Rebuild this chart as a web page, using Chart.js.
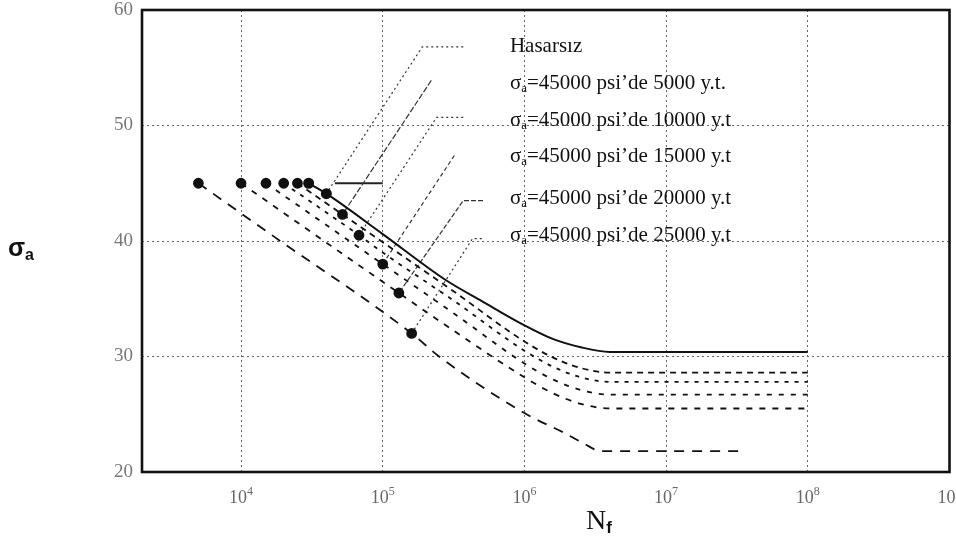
<!DOCTYPE html>
<html>
<head>
<meta charset="utf-8">
<script src="https://cdn.jsdelivr.net/npm/chart.js@4.4.1/dist/chart.umd.min.js"></script>
<style>
  html, body { margin: 0; padding: 0; background: #fff; }
  #wrap { width: 956px; height: 539px; position: relative; }
</style>
</head>
<body>
<div id="wrap"><canvas id="chart-area" width="956" height="539"></canvas></div>
<script>
// ömür eğrileri: N (çevrim) ve sigma_a (ksi)
var seriesNames = [
  'Hasarsız',
  'σa=45000 psi’de 5000 y.t.',
  'σa=45000 psi’de 10000 y.t',
  'σa=45000 psi’de 15000 y.t',
  'σa=45000 psi’de 20000 y.t',
  'σa=45000 psi’de 25000 y.t'
];

var nHasarsiz = [30000, 40000, 100000, 280000, 500000, 1000000, 1600000, 2500000, 4000000, 10000000, 100000000];
var sHasarsiz = [45, 44.1, 40.6, 36.6, 34.8, 32.7, 31.5, 30.8, 30.4, 30.4, 30.4];

var n5000 = [25000, 52000, 100000, 320000, 1000000, 1600000, 2500000, 4000000, 10000000, 100000000];
var s5000 = [45, 42.3, 39.9, 35.6, 31.3, 29.9, 29.0, 28.6, 28.6, 28.6];

var n10000 = [20000, 68000, 100000, 320000, 1000000, 1600000, 2500000, 4000000, 10000000, 100000000];
var s10000 = [45, 40.5, 39.0, 34.8, 30.5, 29.1, 28.2, 27.8, 27.8, 27.8];

var n15000 = [15000, 100000, 320000, 1000000, 1600000, 2500000, 4000000, 10000000, 100000000];
var s15000 = [45, 38.0, 33.7, 29.4, 28.0, 27.1, 26.7, 26.7, 26.7];

var n20000 = [10000, 130000, 320000, 1000000, 1600000, 2500000, 4000000, 10000000, 100000000];
var s20000 = [45, 35.5, 32.2, 28.2, 26.8, 25.9, 25.5, 25.5, 25.5];

var n25000 = [5000, 17000, 160000, 250000, 1000000, 1900000, 2600000, 3500000, 10000000, 35000000];
var s25000 = [45, 40.4, 32.0, 30.0, 25.1, 23.4, 22.5, 21.8, 21.8, 21.8];

// 45 ksi seviyesindeki kısa referans çizgisi
var refN = [46000, 100000];
var refS = [45, 45];

// etiketlerden eğrilere giden kılavuz çizgiler
var leaderTailN = [370000, null, 370000, null, 510000, 500000];
var leaderKneeN = [190000, 220000, 240000, 320000, 370000, 430000];
var leaderS = [56.8, 53.9, 50.7, 47.4, 43.5, 40.2];
var leaderHit = [1, 1, 1, 1, 1, 2];

// eksen değerleri
var xTickValues = [1e4, 1e5, 1e6, 1e7, 1e8, 1e9];
var yTickValues = [20, 30, 40, 50, 60];

// etiket konumu (veri uzayında)
var labelN = 790000;
var labelS = [56.4, 53.2, 50.0, 46.8, 43.2, 40.0];

var allN = [nHasarsiz, n5000, n10000, n15000, n20000, n25000];
var allS = [sHasarsiz, s5000, s10000, s15000, s20000, s25000];
var dashes = [[], [6, 5], [4, 6], [5, 7], [6, 7], [10, 8]];
var leaderDash = [[2, 3], [6, 2], [2, 3], [4, 3], [5, 2], [2, 3]];

function pts(ns, ss) {
  return ns.map(function (n, i) { return { x: n, y: ss[i] }; });
}

var datasets = [];
allN.forEach(function (ns, k) {
  var radii = ns.map(function (n, i) { return (i === 0 || i === leaderHit[k]) ? 4.5 : 0; });
  datasets.push({
    label: seriesNames[k],
    data: pts(ns, allS[k]),
    showLine: true,
    borderColor: '#111',
    backgroundColor: '#111',
    borderWidth: k === 0 ? 2 : 1.8,
    borderDash: dashes[k],
    cubicInterpolationMode: 'monotone',
    pointRadius: radii,
    pointHoverRadius: radii
  });
});

allN.forEach(function (ns, k) {
  var hit = { x: ns[leaderHit[k]], y: allS[k][leaderHit[k]] };
  var line = [];
  if (leaderTailN[k]) line.push({ x: leaderTailN[k], y: leaderS[k] });
  line.push({ x: leaderKneeN[k], y: leaderS[k] });
  line.push(hit);
  datasets.push({
    label: '',
    data: line,
    showLine: true,
    borderColor: '#333',
    borderWidth: 1.2,
    borderDash: leaderDash[k],
    pointRadius: 0,
    tension: 0
  });
});

datasets.push({
  label: '',
  data: pts(refN, refS),
  showLine: true,
  borderColor: '#222',
  borderWidth: 2,
  pointRadius: 0
});

var textPlugin = {
  id: 'textPlugin',
  afterDraw: function (chart) {
    var ctx = chart.ctx;
    var a = chart.chartArea;
    var xs = chart.scales.x, ys = chart.scales.y;
    ctx.save();

    // çerçeve
    ctx.strokeStyle = '#111';
    ctx.lineWidth = 2.6;
    ctx.setLineDash([]);
    ctx.strokeRect(a.left, a.top, a.right - a.left, a.bottom - a.top);

    // x ekseni etiketleri: 10 ve üst simge
    ctx.fillStyle = '#666';
    ctx.textAlign = 'left';
    ctx.textBaseline = 'alphabetic';
    xTickValues.forEach(function (v) {
      var e = String(Math.round(Math.log10(v)));
      var x = xs.getPixelForValue(v);
      ctx.font = '18px "Liberation Serif"';
      var w10 = ctx.measureText('10').width;
      ctx.font = '12px "Liberation Serif"';
      var we = ctx.measureText(e).width;
      var x0 = x - (w10 + we) / 2;
      ctx.font = '18px "Liberation Serif"';
      ctx.fillText('10', x0, a.bottom + 31);
      ctx.font = '12px "Liberation Serif"';
      ctx.fillText(e, x0 + w10, a.bottom + 23);
    });

    // seri etiketleri
    ctx.fillStyle = '#111';
    seriesNames.forEach(function (name, i) {
      var x = xs.getPixelForValue(labelN);
      var y = ys.getPixelForValue(labelS[i]);
      if (name.indexOf('σa') === 0) {
        ctx.font = '21px "Liberation Serif"';
        ctx.fillText('σ', x, y);
        var w = ctx.measureText('σ').width;
        ctx.font = '13px "Liberation Serif"';
        ctx.fillText('a', x + w, y + 3);
        var wa = ctx.measureText('a').width;
        ctx.font = '21px "Liberation Serif"';
        ctx.fillText(name.slice(2), x + w + wa, y);
      } else {
        ctx.font = '21px "Liberation Serif"';
        ctx.fillText(name, x, y);
      }
    });

    // eksen başlıkları
    ctx.font = 'bold 25px "Liberation Sans"';
    ctx.fillText('σ', 8, 256);
    var ws = ctx.measureText('σ').width;
    ctx.font = 'bold 16px "Liberation Sans"';
    ctx.fillText('a', 8 + ws, 260);

    ctx.font = '28px "Liberation Serif"';
    ctx.fillText('N', 586, 529);
    var wn = ctx.measureText('N').width;
    ctx.font = 'bold 17px "Liberation Sans"';
    ctx.fillText('f', 586 + wn, 533);
    ctx.restore();
  }
};

var config = {
  type: 'scatter',
  data: { datasets: datasets },
  options: {
    responsive: false,
    animation: false,
    devicePixelRatio: 1,
    layout: { padding: { top: 10, right: 6, left: 0, bottom: 0 } },
    plugins: {
      legend: { display: false },
      tooltip: { enabled: false }
    },
    scales: {
      x: {
        type: 'logarithmic',
        min: 2000,
        max: 1e9,
        afterBuildTicks: function (axis) {
          axis.ticks = xTickValues.map(function (v) { return { value: v }; });
        },
        afterFit: function (s) {
          s.height = 67;
          s.paddingLeft = 0;
          s.paddingRight = 0;
        },
        grid: { color: '#666', lineWidth: 1, drawTicks: false },
        border: { display: false, dash: [2, 3] },
        ticks: {
          autoSkip: false,
          maxRotation: 0,
          callback: function () { return ''; }
        }
      },
      y: {
        min: 20,
        max: 60,
        afterBuildTicks: function (axis) {
          axis.ticks = yTickValues.map(function (v) { return { value: v }; });
        },
        afterFit: function (s) {
          s.width = 142;
          s.paddingTop = 0;
          s.paddingBottom = 0;
        },
        grid: { color: '#666', lineWidth: 1, drawTicks: false },
        border: { display: false, dash: [2, 3] },
        ticks: {
          padding: 9,
          color: '#777',
          font: { family: 'Liberation Serif', size: 19 }
        }
      }
    }
  },
  plugins: [textPlugin]
};

window.onload = function () {
  var ctx = document.getElementById('chart-area').getContext('2d');
  window.myChart = new Chart(ctx, config);
};
</script>
</body>
</html>
